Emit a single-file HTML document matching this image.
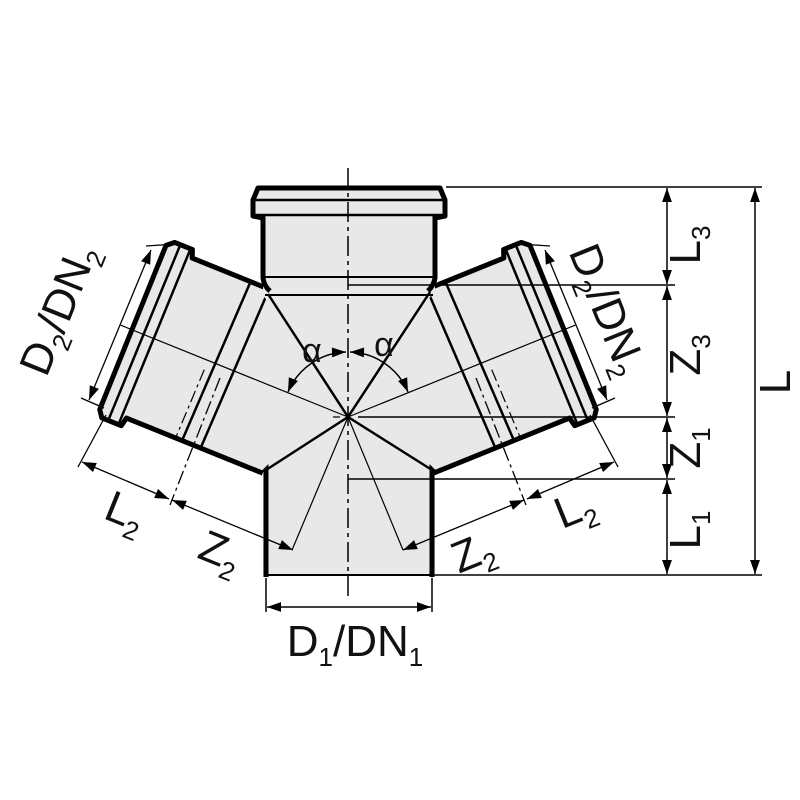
<!DOCTYPE html>
<html><head><meta charset="utf-8"><style>
html,body{margin:0;padding:0;background:#fff;}
svg{display:block;}
text{font-family:"Liberation Sans",sans-serif;fill:#111;}
</style></head><body>
<svg width="800" height="800" viewBox="0 0 800 800" xmlns="http://www.w3.org/2000/svg">
<defs>
<marker id="b" viewBox="0 0 10 10" refX="10" refY="5" markerWidth="16" markerHeight="14" markerUnits="userSpaceOnUse" orient="auto-start-reverse"><path d="M0,1.5 L10,5 L0,8.5 z" fill="#000"/></marker>
<g id="br">
  <path d="M0,0 L120,-90 L205,-90 L207,-97 L228,-97 L234,-90 L234,86 L228,93 L207,93 L205,84 L50,84 Z" fill="#e8e8e8"/>
  <path d="M121,-89 L204,-89 L207,-97 L226,-97 L233,-91 L233,86 L228,93 L207,93 L205,84 L58,84" fill="none" stroke="#000" stroke-width="5" stroke-linejoin="round"/>
  <g stroke="#000" stroke-width="2.5">
    <line x1="121" y1="-89" x2="125" y2="82"/>
    <line x1="141" y1="-89" x2="145" y2="82"/>
    <line x1="209" y1="-95" x2="210" y2="91"/>
    <line x1="220" y1="-95" x2="221" y2="91"/>
  </g>
  <line x1="151" y1="10" x2="152" y2="84" stroke="#000" stroke-width="1.2" stroke-dasharray="12,4,3,4"/>
  <line x1="0" y1="0" x2="245" y2="0" stroke="#000" stroke-width="1.2"/>
</g>
</defs>

<rect x="263" y="200" width="172" height="375" fill="#e8e8e8"/>
<path d="M257,187 L441,187 L446,198 L446,215 L252,215 L252,198 Z" fill="#e8e8e8"/>

<use href="#br" transform="translate(348,417) rotate(-22)"/>
<use href="#br" transform="translate(348,417) scale(-1,1) rotate(-22)"/>

<path d="M263,218 L435,218 L435,290 L348,417 L432,470 L432,575 L266,575 L266,470 L348,417 L263,295 Z" fill="#e8e8e8"/>

<path d="M263,218 L253,216 L253,200 L258,188 L440,188 L445,200 L445,216 L435,218" fill="none" stroke="#000" stroke-width="5" stroke-linejoin="round"/>
<line x1="258" y1="188" x2="440" y2="188" stroke="#000" stroke-width="2.5"/>
<line x1="254" y1="200" x2="444" y2="200" stroke="#000" stroke-width="2.5"/>
<line x1="254" y1="215" x2="444" y2="215" stroke="#000" stroke-width="2.5"/>
<path d="M263,216 L263,278 Q264,286 270,291" fill="none" stroke="#000" stroke-width="5"/>
<path d="M435,216 L435,278 Q434,285 428,291" fill="none" stroke="#000" stroke-width="5"/>
<line x1="263" y1="277" x2="435" y2="277" stroke="#000" stroke-width="2"/>
<line x1="265" y1="295" x2="433" y2="295" stroke="#000" stroke-width="2"/>

<path d="M264,472 L266,470 L266,577" fill="none" stroke="#000" stroke-width="5"/>
<path d="M434,472 L432,470 L432,577" fill="none" stroke="#000" stroke-width="5"/>
<line x1="266" y1="575" x2="432" y2="575" stroke="#000" stroke-width="2"/>

<g stroke="#000" stroke-width="2.5">
  <line x1="348" y1="417" x2="268" y2="294"/>
  <line x1="348" y1="417" x2="430" y2="292"/>
  <line x1="348" y1="417" x2="266" y2="470"/>
  <line x1="348" y1="417" x2="432" y2="470"/>
</g>
<g stroke="#000" stroke-width="1.2">
  <line x1="348" y1="417" x2="292" y2="550"/>
  <line x1="348" y1="417" x2="403" y2="550"/>
  <line x1="333" y1="417" x2="340" y2="417"/>
</g>
<line x1="348" y1="168" x2="348" y2="600" stroke="#000" stroke-width="1.5" stroke-dasharray="20,5,4,5"/>

<g stroke="#000" stroke-width="1.5">
  <line x1="446" y1="187" x2="762" y2="187"/>
  <line x1="348" y1="285" x2="675" y2="285"/>
  <line x1="358" y1="417" x2="675" y2="417"/>
  <line x1="348" y1="479" x2="675" y2="479"/>
  <line x1="432" y1="575" x2="762" y2="575"/>
  <line x1="266" y1="578" x2="266" y2="612"/>
  <line x1="432" y1="578" x2="432" y2="612"/>
</g>
<g stroke="#000" stroke-width="1.5" fill="none">
  <line x1="667" y1="188" x2="667" y2="284" marker-start="url(#b)" marker-end="url(#b)"/>
  <line x1="667" y1="286" x2="667" y2="416" marker-start="url(#b)" marker-end="url(#b)"/>
  <line x1="667" y1="418" x2="667" y2="478" marker-start="url(#b)" marker-end="url(#b)"/>
  <line x1="667" y1="480" x2="667" y2="574" marker-start="url(#b)" marker-end="url(#b)"/>
  <line x1="755" y1="188" x2="755" y2="574" marker-start="url(#b)" marker-end="url(#b)"/>
  <line x1="267" y1="607" x2="431" y2="607" marker-start="url(#b)" marker-end="url(#b)"/>
</g>

<g stroke="#000" stroke-width="1.3" fill="none">
  <line x1="520" y1="244" x2="550" y2="246"/>
  <line x1="592" y1="408" x2="615" y2="398"/>
  <line x1="545" y1="250" x2="607" y2="400" marker-start="url(#b)" marker-end="url(#b)"/>
  <line x1="590" y1="415" x2="618" y2="467"/>
  <line x1="403" y1="550" x2="524" y2="500" marker-start="url(#b)" marker-end="url(#b)"/>
  <line x1="527" y1="499" x2="614" y2="462" marker-start="url(#b)" marker-end="url(#b)"/>
  <line x1="476" y1="378" x2="526" y2="505" stroke-dasharray="14,4,3,4"/>
</g>
<g stroke="#000" stroke-width="1.3" fill="none" transform="translate(696,0) scale(-1,1)">
  <line x1="520" y1="244" x2="550" y2="246"/>
  <line x1="592" y1="408" x2="615" y2="398"/>
  <line x1="545" y1="250" x2="607" y2="400" marker-start="url(#b)" marker-end="url(#b)"/>
  <line x1="590" y1="415" x2="618" y2="467"/>
  <line x1="403" y1="550" x2="524" y2="500" marker-start="url(#b)" marker-end="url(#b)"/>
  <line x1="527" y1="499" x2="614" y2="462" marker-start="url(#b)" marker-end="url(#b)"/>
  <line x1="476" y1="378" x2="526" y2="505" stroke-dasharray="14,4,3,4"/>
</g>

<path d="M346,352 A65,65 0 0 0 288,392" fill="none" stroke="#000" stroke-width="1.5" marker-start="url(#b)" marker-end="url(#b)"/>
<path d="M350,352 A65,65 0 0 1 408,392" fill="none" stroke="#000" stroke-width="1.5" marker-start="url(#b)" marker-end="url(#b)"/>
<text x="312" y="362" font-size="34" text-anchor="middle">α</text>
<text x="384" y="356" font-size="34" text-anchor="middle">α</text>

<g font-size="44">
  <text transform="translate(700,245) rotate(-90)" text-anchor="middle">L<tspan font-size="26" dy="10">3</tspan></text>
  <text transform="translate(700,355) rotate(-90)" text-anchor="middle">Z<tspan font-size="26" dy="10">3</tspan></text>
  <text transform="translate(700,448) rotate(-90)" text-anchor="middle">Z<tspan font-size="26" dy="10">1</tspan></text>
  <text transform="translate(700,530) rotate(-90)" text-anchor="middle">L<tspan font-size="26" dy="10">1</tspan></text>
  <text transform="translate(790,382) rotate(-90)" text-anchor="middle">L</text>
  <text x="355" y="656" text-anchor="middle">D<tspan font-size="26" dy="10">1</tspan><tspan dy="-10">/DN</tspan><tspan font-size="26" dy="10">1</tspan></text>
  <text transform="translate(72,315) rotate(-68)" text-anchor="middle">D<tspan font-size="26" dy="10">2</tspan><tspan dy="-10">/DN</tspan><tspan font-size="26" dy="10">2</tspan></text>
  <text transform="translate(594,315) rotate(68)" text-anchor="middle">D<tspan font-size="26" dy="10">2</tspan><tspan dy="-10">/DN</tspan><tspan font-size="26" dy="10">2</tspan></text>
  <text transform="translate(120,525) rotate(22)" text-anchor="middle">L<tspan font-size="26" dy="10">2</tspan></text>
  <text transform="translate(215,565) rotate(22)" text-anchor="middle">Z<tspan font-size="26" dy="10">2</tspan></text>
  <text transform="translate(580,522) rotate(-22)" text-anchor="middle">L<tspan font-size="26" dy="10">2</tspan></text>
  <text transform="translate(478,566) rotate(-22)" text-anchor="middle">Z<tspan font-size="26" dy="10">2</tspan></text>
</g>
</svg>
</body></html>
